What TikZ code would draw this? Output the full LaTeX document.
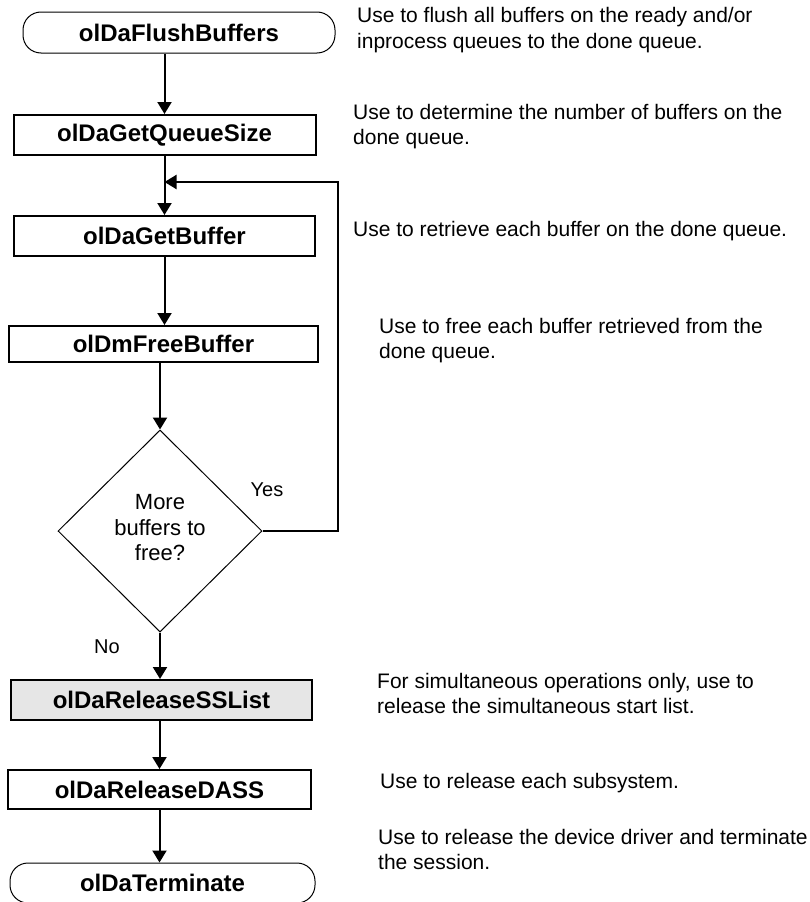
\documentclass[tikz,border=0pt]{standalone}
\usepackage{fontspec}
\setmainfont{Liberation Sans}
\usetikzlibrary{shapes.geometric,arrows.meta}
\definecolor{ssgray}{RGB}{230,230,230}
\begin{document}
\begin{tikzpicture}[x=1pt,y=-1pt,
  proc/.style={draw,line width=2pt,minimum height=40pt,inner sep=0pt,
    font=\fontsize{24}{28}\selectfont\bfseries},
  term/.style={draw,line width=1pt,rounded corners=18pt,minimum height=41pt,inner sep=0pt,
    font=\fontsize{24}{28}\selectfont\bfseries},
  decision/.style={draw,diamond,line width=1pt,inner sep=0pt,align=center,
    font=\fontsize{22}{25.5}\selectfont},
  flow/.style={line width=2pt,-{Triangle[width=14pt,length=12pt]}},
  note/.style={anchor=base west,inner sep=0pt,align=left,font=\fontsize{21}{25}\selectfont},
  answer/.style={inner sep=0pt,font=\fontsize{20}{24}\selectfont}]
\useasboundingbox (0,0) rectangle (809,902);

% flow chart column
\node[term,minimum width=312pt] (flush) at (179,32.5) {olDaFlushBuffers};
\node[proc,minimum width=302pt] (getq) at (164.5,135) {olDaGetQueueSize};
\node[proc,minimum width=301pt] (getbuf) at (164.5,236) {olDaGetBuffer};
\node[proc,minimum width=309pt,minimum height=36pt] (freebuf) at (163.5,344) {olDmFreeBuffer};
\node[decision,minimum width=204pt,minimum height=202pt] (more) at (160,531) {};
\node[inner sep=0pt,align=center,font=\fontsize{22}{25.5}\selectfont] (moretext) at (160,528) {More\\buffers to\\free?};
\node[proc,fill=ssgray,minimum width=301pt] (sslist) at (161.5,700) {olDaReleaseSSList};
\node[proc,minimum width=303pt,minimum height=39pt] (dass) at (159.5,789.5) {olDaReleaseDASS};
\node[term,minimum width=305pt,minimum height=40pt] (terminate) at (162.5,883) {olDaTerminate};

% connectors
\draw[flow] (flush.south -| getq.north) -- (getq.north);
\draw[flow] (getq.south) -- (getq.south |- getbuf.north);
\draw[flow] (getbuf.south) -- (getbuf.south |- freebuf.north);
\draw[flow] (freebuf.south -| more.north) -- (more.north);
\draw[flow] (more.south) -- (more.south |- sslist.north);
\draw[flow] (sslist.south -| dass.north) -- (dass.north);
\draw[flow] (dass.south) -- (dass.south |- terminate.north);

% loop back for more buffers
\coordinate (loopcorner) at (338,182);
\draw[flow] (more.east) -| (loopcorner) -- (loopcorner -| getq.south);

\node[answer] (yes) at (267,490) {Yes};
\node[answer] (no) at (107,647) {No};

% descriptions (anchored on the baseline of their last line)
\node[note] (n1) at (357,48) {Use to flush all buffers on the ready and/or\\inprocess queues to the done queue.};
\node[note] (n2) at (353,144) {Use to determine the number of buffers on the\\done queue.};
\node[note] (n3) at (353,236) {Use to retrieve each buffer on the done queue.};
\node[note] (n4) at (379,358) {Use to free each buffer retrieved from the\\done queue.};
\node[note] (n5) at (377,713) {For simultaneous operations only, use to\\release the simultaneous start list.};
\node[note] (n6) at (380,788) {Use to release each subsystem.};
\node[note] (n7) at (378,869) {Use to release the device driver and terminate\\the session.};
\end{tikzpicture}
\end{document}
